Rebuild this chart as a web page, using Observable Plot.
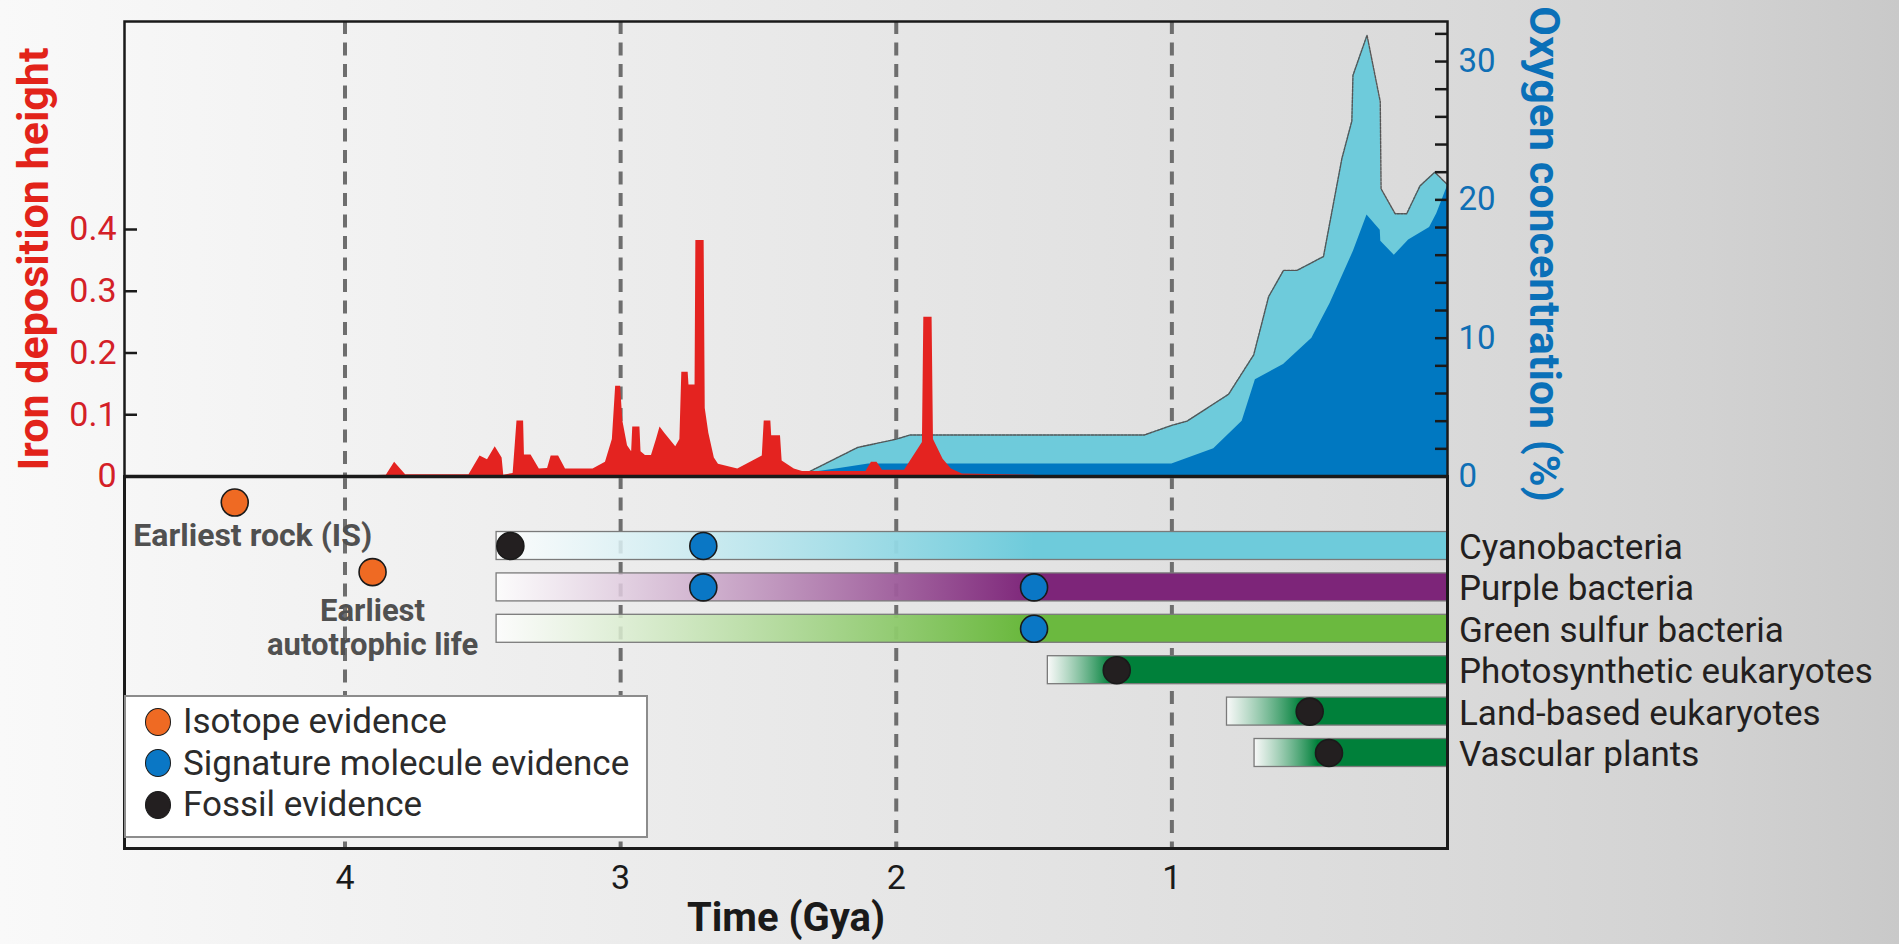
<!DOCTYPE html>
<html>
<head>
<meta charset="utf-8">
<script src="https://cdn.jsdelivr.net/npm/d3@7"></script>
<script src="https://cdn.jsdelivr.net/npm/@observablehq/plot@0.6"></script>
<style>
  html, body { margin: 0; padding: 0; }
  body {
    width: 1899px; height: 944px; overflow: hidden;
    background: linear-gradient(to right, #f9f9f9 0%, #f2f2f2 18%, #eaeaea 38%, #e2e2e2 58%, #dadada 76%, #d2d2d2 90%, #c9c9c9 100%);
    font-family: Roboto, sans-serif;
  }
  #wrap { position: relative; width: 1899px; height: 944px; }
  #top, #bottom { position: absolute; left: 0; }
  #top { top: 0; }
  #bottom { top: 476px; }
  #legend {
    position: absolute; left: 124px; top: 695px; width: 520px; height: 135px;
    background: #ffffff; border: 2px solid #8c8c8c; padding-top: 4px; box-sizing: content-box;
  }
  #legend .row { display: flex; align-items: center; height: 41.5px; }
  #legend .sw { width: 24px; height: 26px; border-radius: 50%; border: 1.6px solid #1a1a1a; margin-left: 19px; margin-right: 12px; flex: none; }
  #legend .lab { font-size: 35px; line-height: 41.5px; color: #2b2b2b; white-space: nowrap; }
</style>
</head>
<body>
<div id="wrap">
  <div id="top"></div>
  <div id="bottom"></div>
  <div id="legend"></div>
</div>
<script>
// ---------- data ----------
const gridTimes = [1, 2, 3, 4];
const ironTicks = [0, 0.1, 0.2, 0.3, 0.4];
const oxyMinorTicks = [0, 2, 4, 6, 8, 10, 12, 14, 16, 18, 20, 22, 24, 26, 28, 30, 32];
const oxyTickLabels = [0, 10, 20, 30];

// iron deposition height: [time (Gya), height]
const iron = [
  [4.0,0],[3.85,0.002],[3.82,0.023],[3.78,0.003],[3.55,0.003],[3.51,0.033],[3.483,0.027],[3.455,0.048],
  [3.43,0.03],[3.424,0.002],[3.39,0.005],[3.376,0.09],[3.352,0.09],[3.349,0.035],[3.325,0.035],[3.295,0.012],
  [3.265,0.013],[3.252,0.033],[3.225,0.033],[3.2,0.012],[3.1,0.012],[3.055,0.023],[3.03,0.06],[3.018,0.146],
  [3.0,0.146],[2.992,0.09],[2.975,0.05],[2.96,0.04],[2.956,0.08],[2.93,0.08],[2.926,0.04],[2.91,0.034],
  [2.888,0.034],[2.87,0.06],[2.857,0.08],[2.84,0.07],[2.8,0.048],[2.785,0.06],[2.778,0.169],[2.755,0.169],
  [2.752,0.148],[2.73,0.148],[2.727,0.382],[2.697,0.382],[2.693,0.11],[2.68,0.07],[2.66,0.03],[2.645,0.02],
  [2.575,0.012],[2.52,0.025],[2.486,0.033],[2.479,0.09],[2.455,0.09],[2.452,0.066],[2.42,0.066],[2.414,0.025],
  [2.37,0.012],[2.34,0.008],[2.11,0.008],[2.09,0.023],[2.07,0.023],[2.05,0.01],[1.97,0.01],[1.905,0.055],
  [1.9,0.258],[1.87,0.258],[1.865,0.06],[1.83,0.028],[1.8,0.012],[1.76,0.004],[1.5,0.002],[1.48,0]
];

// oxygen concentration (%): upper estimate and lower estimate
const oxyHigh = [
  [2.35,0],[2.25,1.0],[2.14,2.1],[2.0,2.7],[1.95,3.0],[1.1,3.0],[1.0,3.7],[0.945,4.0],[0.794,5.95],
  [0.703,8.8],[0.649,13.0],[0.595,14.9],[0.546,14.9],[0.45,15.9],[0.383,23.0],[0.347,25.7],[0.343,29.0],
  [0.292,31.9],[0.244,27.1],[0.241,20.8],[0.19,19.0],[0.148,19.0],[0.1,21.0],[0.046,22.0],[0,21.1]
];
const oxyLow = [
  [2.35,0],[2.3,0.3],[2.2,0.6],[2.1,0.9],[1.0,0.9],[0.848,2.0],[0.745,4.0],[0.697,7.0],[0.595,8.1],
  [0.492,10.0],[0.426,12.5],[0.341,16.3],[0.292,18.9],[0.244,17.8],[0.242,17.0],[0.193,16.0],[0.141,17.1],
  [0.065,18.0],[0.039,19.0],[0,21.0]
];

// organism groups
const groups = ["Cyanobacteria", "Purple bacteria", "Green sulfur bacteria", "Photosynthetic eukaryotes", "Land-based eukaryotes", "Vascular plants"];
const groupStart = [3.45, 3.45, 3.45, 1.45, 0.8, 0.7];
const groupEnd = [0, 0, 0, 0, 0, 0];
const groupFadeTo = [1.5, 1.5, 1.55, 1.22, 0.53, 0.47];
const groupColor = ["#6ecbdb", "#7d2579", "#6bb93f", "#00803a", "#00803a", "#00803a"];

// evidence
const evidenceTypes = ["Isotope evidence", "Signature molecule evidence", "Fossil evidence"];
const evidenceColors = ["#ef6a23", "#0a77c5", "#231f20"];
const evidence = [
  {type: "Fossil evidence", group: "Cyanobacteria", t: 3.4},
  {type: "Signature molecule evidence", group: "Cyanobacteria", t: 2.7},
  {type: "Signature molecule evidence", group: "Purple bacteria", t: 2.7},
  {type: "Signature molecule evidence", group: "Purple bacteria", t: 1.5},
  {type: "Signature molecule evidence", group: "Green sulfur bacteria", t: 1.5},
  {type: "Fossil evidence", group: "Photosynthetic eukaryotes", t: 1.2},
  {type: "Fossil evidence", group: "Land-based eukaryotes", t: 0.5},
  {type: "Fossil evidence", group: "Vascular plants", t: 0.43}
];
const isotopeEvents = [
  {label: "Earliest rock (IS)", t: 4.4, row: -1.05},
  {label: "Earliest\nautotrophic life", t: 3.9, row: 0.63}
];

// ---------- layout / styles ----------
const W = 1899;
const ML = 124, MR = W - 1447;
const K = 0.0224;            // oxygen % expressed in iron-axis units (dual axis)
const RED = "#e42320", BLUE_TXT = "#0f6fb5";
const INK = "#1a1a1a";
const xDomain = [4.8, 0];
const fmt = d => String(d);

// ---------- top panel ----------
const topPlot = Plot.plot({
  width: W, height: 478,
  marginTop: 21, marginBottom: 2, marginLeft: ML, marginRight: MR,
  style: {fontFamily: "Roboto, sans-serif", background: "transparent", overflow: "visible"},
  x: {domain: xDomain, axis: null, label: null},
  y: {domain: [0, 455 / 617.5], label: null},
  marks: [
    Plot.ruleX(gridTimes, {stroke: "#6e6e6e", strokeWidth: 4, strokeDasharray: "13,8.5"}),
    Plot.areaY(oxyHigh, {x: d => d[0], y: d => d[1] * K, fill: "#6ecbdb"}),
    Plot.lineY(oxyHigh, {x: d => d[0], y: d => d[1] * K, stroke: "#555555", strokeWidth: 1.4, strokeDasharray: "2.5,1.2"}),
    Plot.areaY(oxyLow, {x: d => d[0], y: d => d[1] * K, fill: "#0078c1"}),
    Plot.areaY(iron, {x: d => d[0], y: d => d[1], fill: RED}),
    Plot.ruleY([0], {stroke: INK, strokeWidth: 3.5}),
    Plot.frame({stroke: INK, strokeWidth: 2.5}),
    Plot.axisY(ironTicks, {anchor: "left", tickSize: 13, dx: 13, tickFormat: () => "", color: INK, strokeWidth: 2.5}),
    Plot.axisY(ironTicks, {anchor: "left", tickSize: 0, tickPadding: 8, fontSize: 34, color: "#d42027", tickFormat: fmt}),
    Plot.axisY(oxyMinorTicks.map(v => v * K), {anchor: "right", tickSize: 13, dx: -13, tickFormat: () => "", color: INK, strokeWidth: 2.5}),
    Plot.axisY(oxyTickLabels.map(v => v * K), {anchor: "right", tickSize: 0, tickPadding: 11, fontSize: 33, color: BLUE_TXT, tickFormat: v => String(Math.round(v / K))}),
    Plot.text(["Iron deposition height"], {frameAnchor: "left", dx: -76.5, dy: 10, rotate: -90, textAnchor: "middle", lineAnchor: "bottom", fontSize: 43, fontWeight: 700, fill: "#e2231a"}),
    Plot.text(["Oxygen concentration (%)"], {frameAnchor: "right", dx: 82, dy: 5, rotate: 90, textAnchor: "middle", lineAnchor: "bottom", fontSize: 43, fontWeight: 700, fill: "#0a70b8"})
  ]
});
document.getElementById("top").appendChild(topPlot);

// ---------- bottom panel ----------
const bars = groups.map((g, i) => ({group: g, lane: i, start: groupStart[i], end: groupEnd[i], fadeTo: groupFadeTo[i], color: groupColor[i]}));
const laneOf = g => groups.indexOf(g);
const halfBar = 0.338;

const bottomPlot = Plot.plot({
  width: W, height: 468,
  marginTop: 0, marginBottom: 96, marginLeft: ML, marginRight: MR,
  style: {fontFamily: "Roboto, sans-serif", background: "transparent", overflow: "visible"},
  x: {domain: xDomain, label: null},
  y: {domain: [-1.679, 7.307], reverse: true, axis: null, label: null},
  color: {type: "identity"},
  marks: [
    Plot.ruleX(gridTimes, {stroke: "#6e6e6e", strokeWidth: 4, strokeDasharray: "13,8.5"}),
    Plot.rect(bars, {x1: "start", x2: "end", y1: d => d.lane - halfBar, y2: d => d.lane + halfBar,
      fill: d => `url(#fade${d.lane})`, stroke: "#7a7a7a", strokeWidth: 1.3}),
    Plot.dot(evidence, {x: "t", y: d => laneOf(d.group), r: 13.5,
      fill: d => evidenceColors[evidenceTypes.indexOf(d.type)], stroke: INK, strokeWidth: 1.6}),
    Plot.dot(isotopeEvents, {x: "t", y: "row", r: 13.5, fill: evidenceColors[0], stroke: INK, strokeWidth: 1.6}),
    Plot.text([isotopeEvents[0]], {x: "t", y: "row", text: "label", dx: 18, dy: 43, lineAnchor: "bottom", fontSize: 32, fontWeight: 700, fill: "#505050"}),
    Plot.text([isotopeEvents[1]], {x: "t", y: "row", text: "label", dy: 25, lineAnchor: "top", lineHeight: 1.1, fontSize: 31, fontWeight: 700, fill: "#505050"}),
    Plot.text(groups, {y: (d, i) => i, text: d => d, frameAnchor: "right", dx: 11.5, dy: 13, textAnchor: "start", lineAnchor: "bottom", fontSize: 35, fill: "#231f20"}),
    Plot.frame({stroke: INK, strokeWidth: 3}),
    Plot.axisX(gridTimes, {anchor: "bottom", tickSize: 0, tickPadding: 16.6, fontSize: 34, color: INK, tickFormat: fmt}),
    Plot.text(["Time (Gya)"], {frameAnchor: "bottom", textAnchor: "middle", lineAnchor: "bottom", dy: 82.7, fontSize: 40, fontWeight: 700, fill: INK})
  ]
});

// gradient fills for the bars (fade-in from white up to the solid colour)
const defs = d3.select(bottomPlot).insert("defs", ":first-child");
bars.forEach(b => {
  const g = defs.append("linearGradient").attr("id", `fade${b.lane}`)
    .attr("x1", 0).attr("x2", 1).attr("y1", 0).attr("y2", 0);
  const f = (b.start - b.fadeTo) / (b.start - b.end);
  g.append("stop").attr("offset", 0).attr("stop-color", "#ffffff").attr("stop-opacity", 0.8);
  g.append("stop").attr("offset", f).attr("stop-color", b.color).attr("stop-opacity", 1);
  g.append("stop").attr("offset", 1).attr("stop-color", b.color).attr("stop-opacity", 1);
});
document.getElementById("bottom").appendChild(bottomPlot);

// ---------- legend ----------
const legend = d3.select("#legend");
evidenceTypes.forEach((t, i) => {
  const row = legend.append("div").attr("class", "row");
  row.append("span").attr("class", "sw").style("background", evidenceColors[i]);
  row.append("span").attr("class", "lab").text(t);
});
</script>
</body>
</html>
